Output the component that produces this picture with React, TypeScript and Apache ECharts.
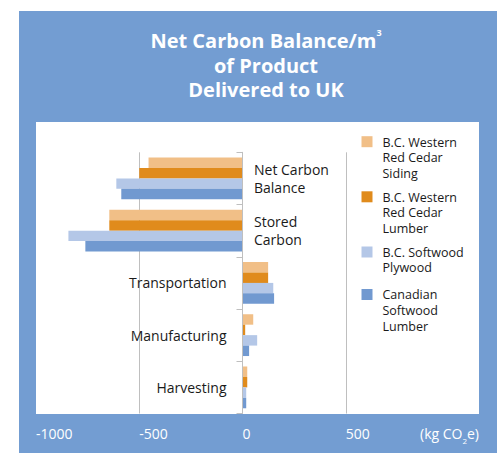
import React, { useEffect, useRef } from "react";
import * as echarts from "echarts";

const categories = ["Net Carbon Balance", "Stored Carbon", "Transportation", "Manufacturing", "Harvesting"];
const categoryLabels = ["Net Carbon\nBalance", "Stored\nCarbon", "Transportation", "Manufacturing", "Harvesting"];
const labelRightOfAxis = [true, true, false, false, false];

const seriesNames = [
  "B.C. Western Red Cedar Siding",
  "B.C. Western Red Cedar Lumber",
  "B.C. Softwood Plywood",
  "Canadian Softwood Lumber",
];
const legendLabels = [
  "B.C. Western\nRed Cedar\nSiding",
  "B.C. Western\nRed Cedar\nLumber",
  "B.C. Softwood\nPlywood",
  "Canadian\nSoftwood\nLumber",
];
const seriesColors = ["#F1BF87", "#E08B1C", "#B4C7E7", "#7199D0"];

const sidingValues = [-455, -645, 124, 52, 23];
const cedarLumberValues = [-500, -645, 124, 13, 23];
const plywoodValues = [-611, -843, 149, 71, 18];
const canadianValues = [-587, -761, 153, 32, 18];
const seriesValues = [sidingValues, cedarLumberValues, plywoodValues, canadianValues];

const xMin = -1000;
const xMax = 1000;
const xInterval = 500;

const FONT = "'Open Sans', 'Noto Sans', sans-serif";
const BLUE = "#739DD2";
const TEXT = "#1a1a1a";

export default function App() {
  const ref = useRef<HTMLDivElement>(null);

  useEffect(() => {
    if (!ref.current) return;
    const chart = echarts.init(ref.current, null, { renderer: "svg" });

    const W = 500;
    const gridLeft = 36;
    const gridRight = 51;
    const gridWidth = W - gridLeft - gridRight;
    // place the category axis at value 0 of the value axis
    const zeroOffset = ((0 - xMin) / (xMax - xMin)) * gridWidth;

    const L = 15.6;
    const iconCenters = [141.7, 196.8, 252, 294.5];
    const legends = seriesNames.map((name, i) => {
      const n = legendLabels[i].split("\n").length;
      const h = +(n * L).toFixed(1);
      // tall icon box (same height as the name) with the square drawn at its top
      const icon = `path://M0,0L0,0M0,2H11V13H0ZM0,${h}L0,${h}`;
      return {
        data: [name],
        orient: "vertical",
        left: 361.5,
        top: iconCenters[i] - 7.5,
        padding: 0,
        itemWidth: 11,
        itemHeight: h,
        itemGap: 0,
        icon,
        selectedMode: false,
        formatter: () => legendLabels[i],
        textStyle: {
          fontFamily: FONT,
          fontSize: 12.5,
          color: TEXT,
          lineHeight: L,
          padding: [0, 0, 0, 5],
        },
      };
    });

    const yData = categories.map((c, i) => ({
      value: c,
      textStyle: { align: labelRightOfAxis[i] ? "left" : "right" },
    }));

    chart.setOption({
      animation: false,
      backgroundColor: "#ffffff",
      title: {
        text: "{a|Net Carbon Balance/m}{s|3}\n{a|of Product}\n{a|Delivered to UK}",
        left: 266,
        top: 28.4,
        padding: 0,
        textAlign: "center",
        textStyle: {
          rich: {
            a: { fontFamily: FONT, fontSize: 20, fontWeight: "bold", color: "#ffffff", lineHeight: 24.6 },
            s: { fontFamily: FONT, fontSize: 9, fontWeight: "bold", color: "#ffffff", lineHeight: 9, verticalAlign: "top" },
          },
        },
      },
      graphic: [
        { type: "rect", z: -20, silent: true, shape: { x: 19, y: 11, width: 478, height: 442 }, style: { fill: BLUE } },
        { type: "rect", z: -10, silent: true, shape: { x: 36, y: 122, width: 443, height: 292 }, style: { fill: "#ffffff" } },
        {
          type: "text",
          z: 10,
          x: 479,
          y: 433.5,
          style: {
            text: "{a|(kg CO}{s|2}{a|e)}",
            align: "right",
            verticalAlign: "middle",
            rich: {
              a: { fontFamily: FONT, fontSize: 14, fill: "#ffffff", lineHeight: 18 },
              s: { fontFamily: FONT, fontSize: 8, fill: "#ffffff", lineHeight: 18, verticalAlign: "bottom", padding: [0, 0, -2, 0] },
            },
          },
        },
      ],
      legend: legends,
      grid: {
        left: gridLeft,
        right: gridRight,
        top: 152.3,
        bottom: 39.5,
        containLabel: false,
        outerBoundsMode: "none",
      },
      xAxis: {
        type: "value",
        min: xMin,
        max: xMax,
        interval: xInterval,
        axisLine: { show: false },
        axisTick: { show: false },
        splitLine: { show: true, lineStyle: { color: ["rgba(0,0,0,0)", "#BFBFBF"], width: 1 } },
        axisLabel: {
          color: "#ffffff",
          fontFamily: FONT,
          fontSize: 14,
          align: "left",
          margin: 13,
          formatter: (v: number) => (v === xMax ? "" : String(v)),
        },
      },
      yAxis: {
        type: "category",
        inverse: true,
        position: "left",
        offset: -zeroOffset,
        data: yData,
        axisLine: { show: true, onZero: false, lineStyle: { color: "#BFBFBF", width: 1 } },
        axisTick: { show: true, length: 6, lineStyle: { color: "#BFBFBF" } },
        splitLine: { show: false },
        z: 5,
        axisLabel: {
          margin: 16,
          fontFamily: FONT,
          fontSize: 14,
          color: TEXT,
          lineHeight: 17.7,
          formatter: (v: string) => {
            const i = categories.indexOf(v);
            const lines = categoryLabels[i].split("\n");
            if (labelRightOfAxis[i]) return lines.map((l) => `{p| }{t|${l}}`).join("\n");
            return lines.map((l) => `{t|${l}}`).join("\n");
          },
          rich: {
            p: { width: 27.5, fontSize: 14, lineHeight: 17.7 },
            t: { fontFamily: FONT, fontSize: 14, color: TEXT, lineHeight: 17.7 },
          },
        },
      },
      series: seriesNames.map((name, i) => ({
        name,
        type: "bar",
        data: seriesValues[i],
        barGap: "0%",
        barCategoryGap: "20%",
        itemStyle: { color: seriesColors[i] },
      })),
    });

    return () => chart.dispose();
  }, []);

  return <div ref={ref} style={{ position: "fixed", left: 0, top: 0, width: 500, height: 453 }} />;
}
